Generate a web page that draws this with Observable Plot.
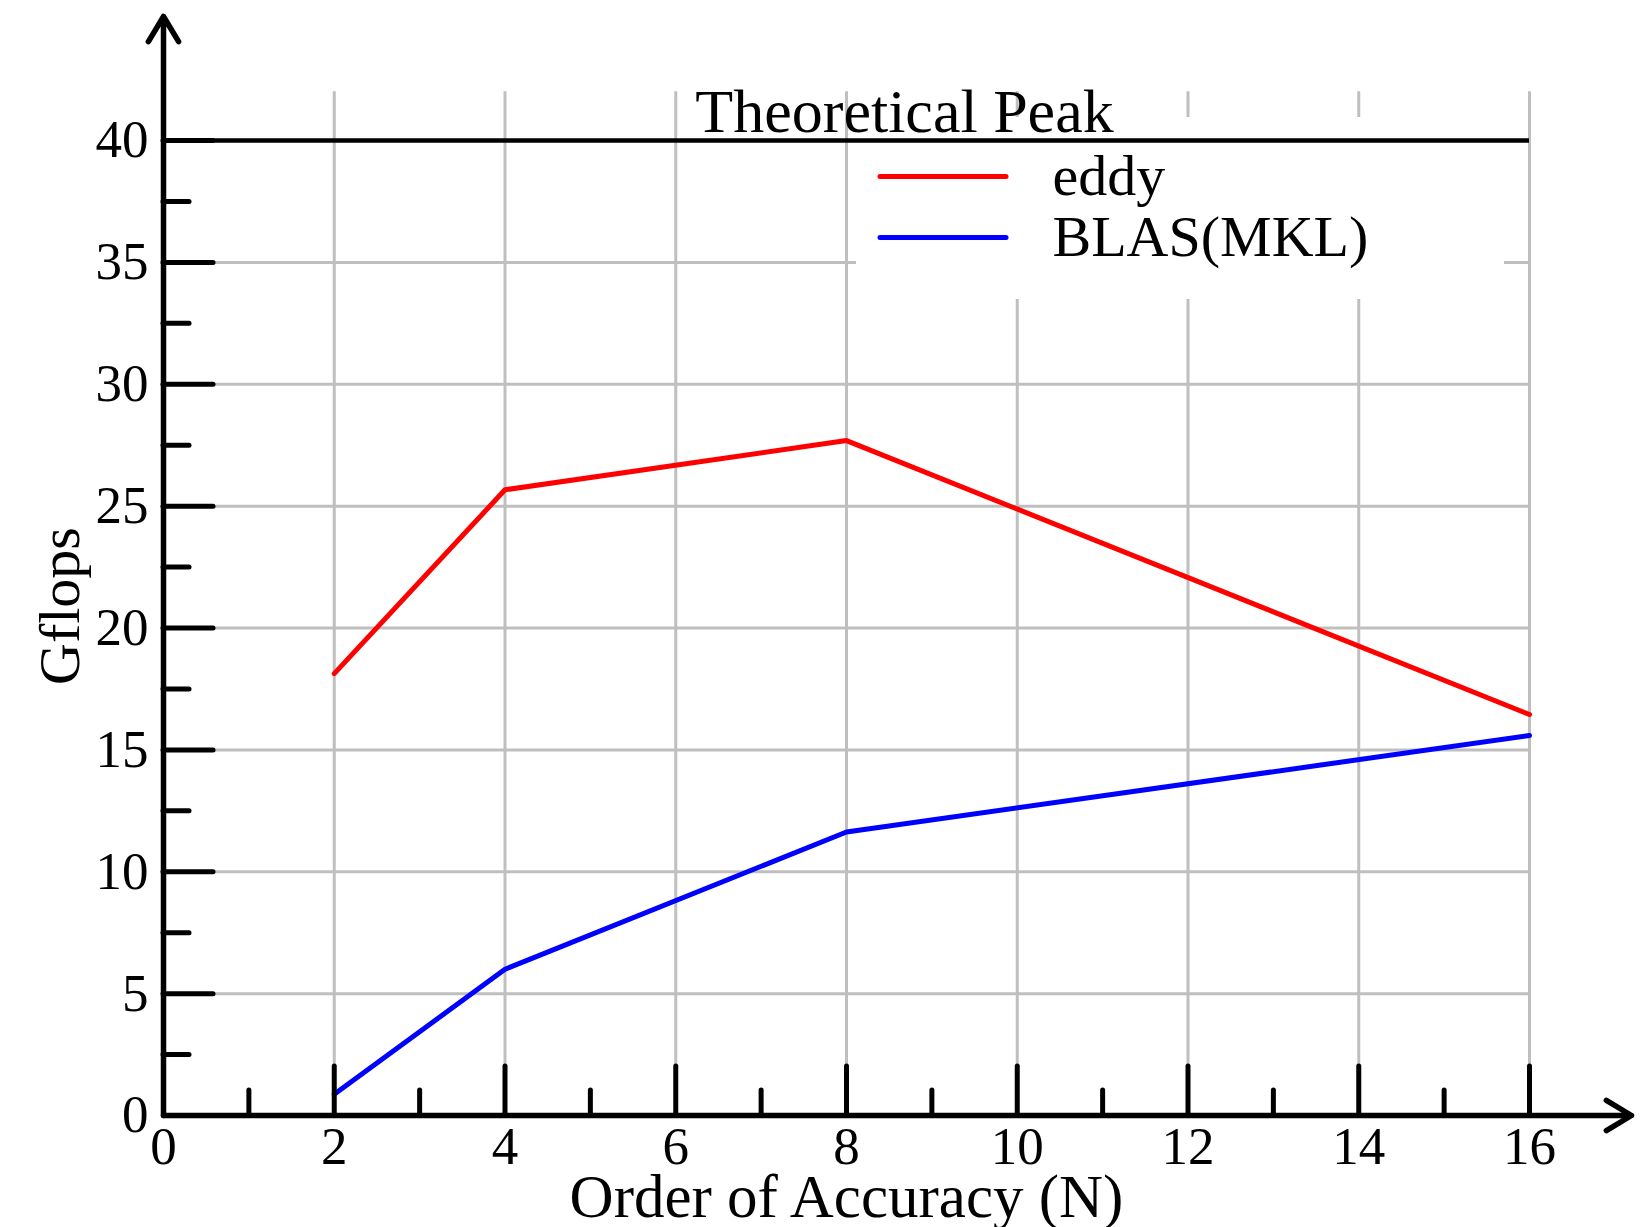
<!DOCTYPE html>
<html>
<head>
<meta charset="utf-8">
<script src="https://cdn.jsdelivr.net/npm/d3@7"></script>
<script src="https://cdn.jsdelivr.net/npm/@observablehq/plot@0.6"></script>
<style>
  html, body { margin: 0; padding: 0; background: #ffffff; }
  #chart svg { display: block; }
</style>
</head>
<body>
<div id="chart"></div>
<script>
// Measured throughput per order of accuracy
const orders = [2, 4, 8, 16];
const eddy = [18.13, 25.67, 27.69, 16.45];
const blas = [0.87, 6.0, 11.63, 15.59];
const seriesNames = ["eddy", "BLAS(MKL)"];
const seriesColors = ["#ff0000", "#0000ff"];

// Reference level
const peak = 40;
const peakLabel = "Theoretical Peak";

// Axes
const xTicks = [0, 2, 4, 6, 8, 10, 12, 14, 16];
const xMinorTicks = [1, 3, 5, 7, 9, 11, 13, 15];
const yTicks = [0, 5, 10, 15, 20, 25, 30, 35, 40];
const yMinorTicks = [2.5, 7.5, 12.5, 17.5, 22.5, 27.5, 32.5, 37.5];
const xLabel = "Order of Accuracy (N)";
const yLabel = "Gflops";

// Page geometry
const W = 1647, H = 1227;
const mL = 163, mR = 118, mT = 140, mB = 112;
const xDomain = [0, 16], yDomain = [0, 40];
const kx = (W - mL - mR) / (xDomain[1] - xDomain[0]);
const ky = (H - mT - mB) / (yDomain[1] - yDomain[0]);
const px2x = (px) => xDomain[0] + (px - mL) / kx;
const px2y = (py) => yDomain[0] + (H - mB - py) / ky;

const rows = orders.flatMap((o, i) => [
  {order: o, gflops: eddy[i], series: seriesNames[0]},
  {order: o, gflops: blas[i], series: seriesNames[1]}
]);

const serif = "'Liberation Serif', 'DejaVu Serif', serif";
const gridColor = "#bfbfbf";

// Legend layout (pixel positions turned into data units)
const legendBox = {x1: px2x(856), x2: px2x(1504), y1: px2y(299), y2: px2y(117)};
const legendRows = seriesNames.map((name, i) => ({
  name,
  color: seriesColors[i],
  x1: px2x(880), x2: px2x(1006), tx: px2x(1052),
  y: px2y(176 + i * 61)
}));

const axisArrows = [
  {x1: 0, y1: 0, x2: px2x(1631), y2: 0},
  {x1: 0, y1: 0, x2: 0, y2: px2y(16)}
];

const chart = Plot.plot({
  width: W,
  height: H,
  marginLeft: mL,
  marginRight: mR,
  marginTop: mT,
  marginBottom: mB,
  style: {fontFamily: serif, fontSize: "53px", color: "#000", background: "#fff"},
  x: {domain: xDomain},
  y: {domain: yDomain},
  color: {domain: seriesNames, range: seriesColors},
  marks: [
    // grid
    Plot.ruleX(xTicks.slice(1), {x: d => d, y1: 0, y2: 42, stroke: gridColor, strokeWidth: 3}),
    Plot.ruleY(yTicks.filter(v => v > 0 && v < peak), {y: d => d, x1: 0, x2: 16, stroke: gridColor, strokeWidth: 3}),
    // legend background
    Plot.rect([legendBox], {x1: "x1", x2: "x2", y1: "y1", y2: "y2", fill: "#ffffff"}),
    // theoretical peak
    Plot.ruleY([peak], {x1: 0, x2: 16, stroke: "#000", strokeWidth: 4.5}),
    Plot.text([peakLabel], {x: px2x(904), y: peak, dy: -28, text: d => d, fontSize: 62, textAnchor: "middle", lineAnchor: "middle", fill: "#000"}),
    // series
    Plot.line(rows, {x: "order", y: "gflops", z: "series", stroke: "series", strokeWidth: 5, strokeLinecap: "round", strokeLinejoin: "round"}),
    // inward ticks
    Plot.ruleY(yTicks.slice(1), {y: d => d, x1: 0, x2: px2x(mL + 50), stroke: "#000", strokeWidth: 5, strokeLinecap: "round"}),
    Plot.ruleY(yMinorTicks, {y: d => d, x1: 0, x2: px2x(mL + 26), stroke: "#000", strokeWidth: 5, strokeLinecap: "round"}),
    Plot.ruleX(xTicks.slice(1), {x: d => d, y1: 0, y2: px2y(H - mB - 49), stroke: "#000", strokeWidth: 5, strokeLinecap: "round"}),
    Plot.ruleX(xMinorTicks, {x: d => d, y1: 0, y2: px2y(H - mB - 25), stroke: "#000", strokeWidth: 5, strokeLinecap: "round"}),
    // axis lines with arrowheads
    Plot.arrow(axisArrows, {x1: "x1", y1: "y1", x2: "x2", y2: "y2", stroke: "#000", strokeWidth: 5.5, headLength: 8, headAngle: 62, strokeLinecap: "round", strokeLinejoin: "round"}),
    // tick labels
    Plot.axisX({ticks: xTicks, tickSize: 0, tickPadding: 11, label: null, fontSize: 53}),
    Plot.axisY({ticks: yTicks, tickSize: 0, tickPadding: 15, label: null, fontSize: 53}),
    // axis titles
    Plot.text([xLabel], {frameAnchor: "bottom", dy: 82, text: d => d, fontSize: 61, lineAnchor: "middle", fill: "#000"}),
    Plot.text([yLabel], {frameAnchor: "left", dx: -103, dy: 57, rotate: -90, text: d => d, fontSize: 58, lineAnchor: "middle", fill: "#000"}),
    // legend
    Plot.ruleY(legendRows, {y: "y", x1: "x1", x2: "x2", stroke: "color", strokeWidth: 5, strokeLinecap: "round"}),
    Plot.text(legendRows, {x: "tx", y: "y", text: "name", textAnchor: "start", lineAnchor: "middle", fontSize: 58, fill: "#000"})
  ]
});

document.getElementById("chart").appendChild(chart);
</script>
</body>
</html>
